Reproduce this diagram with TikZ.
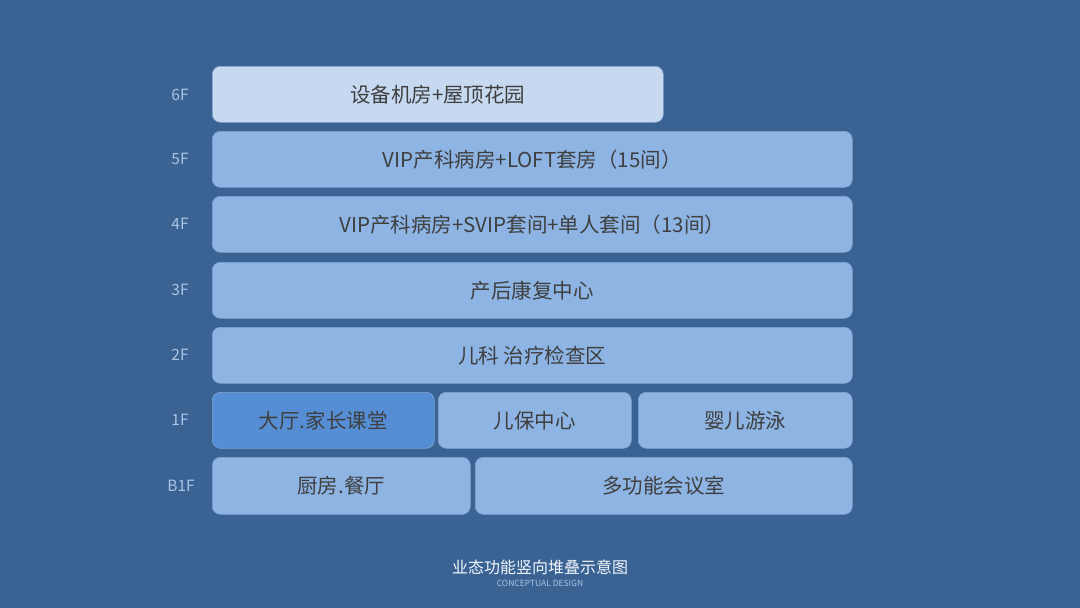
\documentclass[tikz,border=0pt]{standalone}
\usepackage{fontspec}
\setmainfont{Noto Sans CJK SC}
\definecolor{bgblue}{HTML}{3A6394}
\definecolor{boxlight}{HTML}{C6D9F1}
\definecolor{boxmid}{HTML}{8DB4E3}
\definecolor{boxdark}{HTML}{558ED5}
\definecolor{boxedge}{HTML}{7FA3CF}
\definecolor{txtgray}{HTML}{3F3F3F}
\definecolor{lblblue}{HTML}{A9C4E4}
\begin{document}
\begin{tikzpicture}[x=1pt,y=-1pt,
  floorbox/.style={draw=boxedge,line width=0.6pt,rounded corners=8pt,fill=boxmid,
    text=txtgray,font=\fontsize{20.5}{24}\selectfont,inner sep=0pt,anchor=north west},
  floorlbl/.style={text=lblblue,font=\fontsize{15.5}{18}\selectfont,anchor=center}]
\fill[bgblue] (0,0) rectangle (1080,608);
\useasboundingbox (0,0) rectangle (1080,608);
% 6F
\node[floorbox,fill=boxlight,minimum width=451pt,minimum height=56pt] (f6) at (212,66) {设备机房+屋顶花园};
\node[floorlbl] (l6) at (180,95) {6F};
% 5F
\node[floorbox,minimum width=640pt,minimum height=56pt] (f5) at (212,131) {VIP产科病房+LOFT套房（15间）};
\node[floorlbl] (l5) at (180,159) {5F};
% 4F
\node[floorbox,minimum width=640pt,minimum height=56pt] (f4) at (212,196) {VIP产科病房+SVIP套间+单人套间（13间）};
\node[floorlbl] (l4) at (180,224) {4F};
% 3F
\node[floorbox,minimum width=640pt,minimum height=56pt] (f3) at (212,262) {产后康复中心};
\node[floorlbl] (l3) at (180,290) {3F};
% 2F
\node[floorbox,minimum width=640pt,minimum height=56pt] (f2) at (212,327) {儿科 治疗检查区};
\node[floorlbl] (l2) at (180,355) {2F};
% 1F
\node[floorbox,fill=boxdark,minimum width=222pt,minimum height=56pt] (f1a) at (212,392) {大厅.家长课堂};
\node[floorbox,minimum width=193pt,minimum height=56pt] (f1b) at (438,392) {儿保中心};
\node[floorbox,minimum width=214pt,minimum height=56pt] (f1c) at (638,392) {婴儿游泳};
\node[floorlbl] (l1) at (180,420) {1F};
% B1F
\node[floorbox,minimum width=258pt,minimum height=57pt] (fb1a) at (212,457) {厨房.餐厅};
\node[floorbox,minimum width=377pt,minimum height=57pt] (fb1b) at (475,457) {多功能会议室};
\node[floorlbl] (lb1) at (181,486) {B1F};
% caption
\node[text=white!85!lblblue,font=\fontsize{16}{18}\selectfont] (cap) at (540,567) {业态功能竖向堆叠示意图};
\node[text=lblblue,font=\fontsize{8.5}{10}\selectfont] (cap2) at (540,583) {CONCEPTUAL DESIGN};
\end{tikzpicture}
\end{document}
